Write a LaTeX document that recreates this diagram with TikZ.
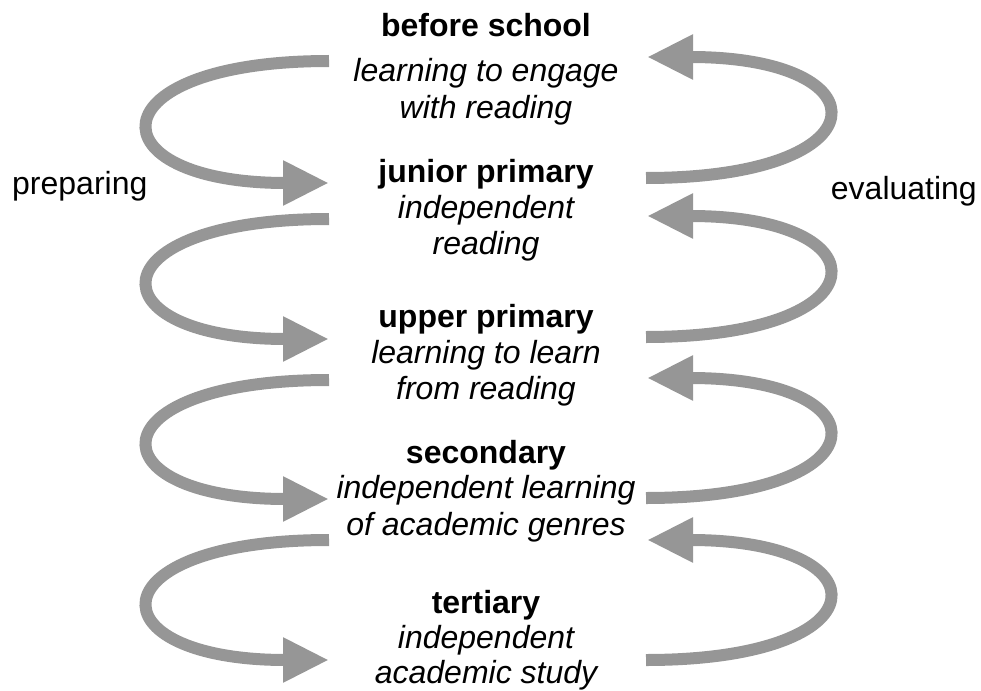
\documentclass[tikz,border=0pt]{standalone}
\usepackage{fontspec}
\setmainfont{Liberation Sans}
\usetikzlibrary{arrows.meta}
\definecolor{arrowgray}{RGB}{150,150,150}
\begin{document}
\begin{tikzpicture}[x=1pt,y=-1pt,
  txt/.style={anchor=base,inner sep=0pt,font=\fontsize{32}{36}\selectfont},
  headtxt/.style={anchor=base,inner sep=0pt,font=\fontsize{32}{36}\selectfont\bfseries},
  subtxt/.style={anchor=base,inner sep=0pt,font=\fontsize{32}{36}\selectfont\itshape},
  looparrow/.style={draw=arrowgray,line width=12pt,-{Triangle[length=46pt,width=42pt]}}]
\useasboundingbox (0,0) rectangle (981,690);

% stage texts
\node[headtxt] (h1) at (486,37) {before school};
\node[subtxt] (s1a) at (486,82) {learning to engage};
\node[subtxt] (s1b) at (486,118) {with reading};

\node[headtxt] (h2) at (486,182) {junior primary};
\node[subtxt] (s2a) at (486,218) {independent};
\node[subtxt] (s2b) at (486,254) {reading};

\node[headtxt] (h3) at (486,327) {upper primary};
\node[subtxt] (s3a) at (486,363) {learning to learn};
\node[subtxt] (s3b) at (486,399) {from reading};

\node[headtxt] (h4) at (486,463) {secondary};
\node[subtxt] (s4a) at (486,498) {independent learning};
\node[subtxt] (s4b) at (486,535) {of academic genres};

\node[headtxt] (h5) at (486,613) {tertiary};
\node[subtxt] (s5a) at (486,648) {independent};
\node[subtxt] (s5b) at (486,683) {academic study};

\node[txt,anchor=base west] (prep) at (12,194) {preparing};
\node[txt,anchor=base east] (eval) at (977,199) {evaluating};

% left arrow end points
\coordinate (L1s) at (329,61);  \coordinate (L1e) at (329,183);
\coordinate (L2s) at (329,219); \coordinate (L2e) at (329,339);
\coordinate (L3s) at (329,380); \coordinate (L3e) at (329,499);
\coordinate (L4s) at (329,540); \coordinate (L4e) at (329,660);
% right arrow end points
\coordinate (R1s) at (646,178); \coordinate (R1e) at (647,57);
\coordinate (R2s) at (646,337); \coordinate (R2e) at (647,216);
\coordinate (R3s) at (646,498); \coordinate (R3e) at (647,378);
\coordinate (R4s) at (646,660); \coordinate (R4e) at (647,540);

\foreach \k in {1,2,3,4}{
  \draw[looparrow] (L\k s) .. controls +(-237,0) and +(-237,0) .. (L\k e);
  \draw[looparrow] (R\k s) .. controls +(239,0) and +(239,0) .. (R\k e);
}
\end{tikzpicture}
\end{document}
